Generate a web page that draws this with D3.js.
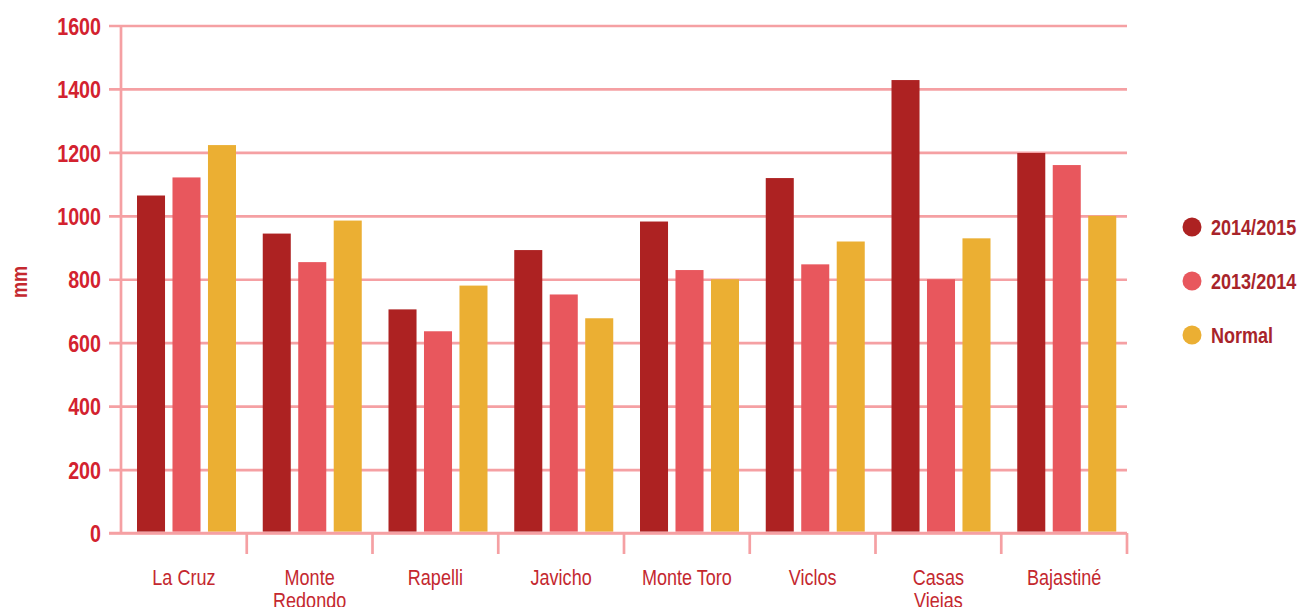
<!DOCTYPE html>
<html>
<head>
<meta charset="utf-8">
<script src="https://cdn.jsdelivr.net/npm/d3@7"></script>
<style>
  body { margin: 0; background: #fff; }
  svg text { font-family: "Liberation Sans", Arial, sans-serif; }
</style>
</head>
<body>
<div id="chart"></div>
<script>
const stations = ["La Cruz", "Monte Redondo", "Rapelli", "Javicho", "Monte Toro", "Viclos", "Casas Viejas", "Bajastiné"];
const stationLines = [["La Cruz"], ["Monte", "Redondo"], ["Rapelli"], ["Javicho"], ["Monte Toro"], ["Viclos"], ["Casas", "Viejas"], ["Bajastiné"]];
const seriesNames = ["2014/2015", "2013/2014", "Normal"];
const season1415 = [1064, 944, 705, 892, 982, 1119, 1428, 1198];
const season1314 = [1121, 854, 636, 752, 829, 847, 800, 1160];
const normal = [1223, 985, 780, 677, 800, 919, 929, 1000];
const yTicks = [0, 200, 400, 600, 800, 1000, 1200, 1400, 1600];

const colors = ["#ad2222", "#e8575d", "#ebaf33"];
const gridColor = "#f5a0a3";
const narrow = 0.82; // squeeze Liberation Sans into a condensed look

const W = 1304, H = 607;
const plotLeft = 121, plotRight = 1127, plotTop = 25.5, plotBottom = 533;

const svg = d3.select("#chart").append("svg")
  .attr("width", W)
  .attr("height", H);

const x = d3.scaleBand()
  .domain(stations)
  .range([plotLeft, plotRight]);

const xInner = d3.scaleBand()
  .domain(seriesNames)
  .range([16, 115])
  .paddingInner(0.21);

const y = d3.scaleLinear()
  .domain([0, 1600])
  .range([plotBottom, plotTop]);

const color = d3.scaleOrdinal().domain(seriesNames).range(colors);

// gridlines + tick labels
const gridLen = plotRight - 109;
const yAxis = d3.axisLeft(y)
  .tickValues(yTicks)
  .tickFormat(d3.format("d"))
  .tickSize(gridLen);

const gy = svg.append("g")
  .attr("transform", "translate(" + plotRight + ",0)")
  .call(yAxis);
gy.select(".domain").remove();
gy.selectAll(".tick line")
  .attr("stroke", gridColor)
  .attr("stroke-width", 2.7);
gy.selectAll(".tick text")
  .attr("x", 0)
  .attr("transform", "translate(" + (-gridLen - 8) + ",0) scale(" + narrow + ",1)")
  .attr("fill", "#d3222f")
  .style("font-size", "24px")
  .style("font-weight", "bold")
  .attr("dy", "0.36em");

// vertical axis line
svg.append("line")
  .attr("x1", plotLeft).attr("x2", plotLeft)
  .attr("y1", y(1600)).attr("y2", y(0))
  .attr("stroke", gridColor)
  .attr("stroke-width", 2.7);

// category separators below the baseline
svg.selectAll(".sep")
  .data(stations)
  .enter().append("line")
  .attr("class", "sep")
  .attr("x1", d => x(d) + x.bandwidth())
  .attr("x2", d => x(d) + x.bandwidth())
  .attr("y1", y(0))
  .attr("y2", y(0) + 21)
  .attr("stroke", gridColor)
  .attr("stroke-width", 2.7);

// bars
const rows = stations.map((s, i) => ({
  station: s,
  values: [season1415[i], season1314[i], normal[i]]
}));

const groups = svg.selectAll(".group")
  .data(rows)
  .enter().append("g")
  .attr("class", "group")
  .attr("transform", d => "translate(" + x(d.station) + ",0)");

groups.selectAll("rect")
  .data(d => d.values.map((v, j) => ({ key: seriesNames[j], value: v })))
  .enter().append("rect")
  .attr("x", d => xInner(d.key))
  .attr("y", d => y(d.value))
  .attr("width", xInner.bandwidth())
  .attr("height", d => y(0) - y(d.value) - 1.3)
  .attr("fill", d => color(d.key));

// category labels
const xAxis = d3.axisBottom(x).tickSize(0).tickPadding(0);
const gx = svg.append("g")
  .attr("transform", "translate(0," + y(0) + ")")
  .call(xAxis);
gx.select(".domain").remove();
gx.selectAll(".tick text").remove();
gx.selectAll(".tick").append("text")
  .attr("transform", "translate(0,52) scale(" + narrow + ",1)")
  .attr("fill", "#c4282f")
  .attr("text-anchor", "middle")
  .style("font-size", "22px")
  .selectAll("tspan")
  .data((d, i) => stationLines[i])
  .enter().append("tspan")
  .attr("x", 0)
  .attr("dy", (d, i) => i === 0 ? 0 : 23)
  .text(d => d);

// baseline on top of bars
svg.append("line")
  .attr("x1", 109).attr("x2", plotRight)
  .attr("y1", y(0)).attr("y2", y(0))
  .attr("stroke", gridColor)
  .attr("stroke-width", 2.7);

// y axis title
svg.append("text")
  .attr("transform", "translate(27,282) rotate(-90) scale(" + narrow + ",1)")
  .attr("text-anchor", "middle")
  .attr("fill", "#c4282f")
  .style("font-size", "22px")
  .style("font-weight", "bold")
  .text("mm");

// legend
const legend = svg.selectAll(".legend")
  .data(seriesNames)
  .enter().append("g")
  .attr("class", "legend")
  .attr("transform", (d, i) => "translate(1192," + (227 + i * 54) + ")");

legend.append("circle")
  .attr("r", 9.5)
  .attr("fill", d => color(d));

legend.append("text")
  .attr("transform", "translate(19,0) scale(" + narrow + ",1)")
  .attr("dy", "0.36em")
  .attr("fill", "#a8242a")
  .style("font-size", "22px")
  .style("font-weight", "bold")
  .text(d => d);
</script>
</body>
</html>
